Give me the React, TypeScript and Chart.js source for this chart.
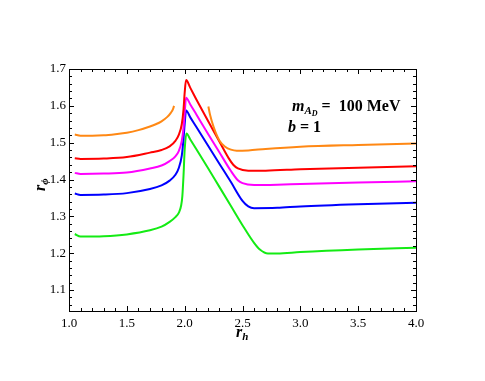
import React, { useEffect, useRef } from "react";
import { Chart, registerables } from "chart.js";

Chart.register(...registerables);

// ---- data ----
const orangeLeftX = [1.05, 1.1, 1.2, 1.3, 1.4, 1.5, 1.6, 1.7, 1.75, 1.8, 1.85, 1.88, 1.9, 1.908];
const orangeLeftY = [1.522, 1.519, 1.519, 1.52, 1.523, 1.527, 1.534, 1.544, 1.55, 1.558, 1.57, 1.581, 1.592, 1.6];
const orangeRightX = [2.205, 2.22, 2.25, 2.3, 2.35, 2.4, 2.45, 2.55, 2.7, 3.0, 3.5, 4.0];
const orangeRightY = [1.598, 1.575, 1.543, 1.506, 1.489, 1.481, 1.478, 1.479, 1.483, 1.489, 1.494, 1.498];

const redX = [1.05, 1.1, 1.3, 1.5, 1.7, 1.8, 1.87, 1.92, 1.95, 1.975, 1.99, 2.0, 2.012, 2.05, 2.1, 2.2, 2.3, 2.38, 2.42, 2.46, 2.55, 2.7, 3.0, 3.5, 4.0];
const redY = [1.458, 1.456, 1.457, 1.461, 1.473, 1.48, 1.49, 1.505, 1.522, 1.55, 1.59, 1.635, 1.67, 1.648, 1.618, 1.56, 1.503, 1.458, 1.44, 1.43, 1.424, 1.424, 1.428, 1.432, 1.436];

const magentaX = [1.05, 1.1, 1.3, 1.5, 1.7, 1.8, 1.87, 1.92, 1.95, 1.975, 1.99, 2.0, 2.012, 2.05, 2.1, 2.2, 2.3, 2.4, 2.46, 2.5, 2.6, 2.8, 3.0, 3.5, 4.0];
const magentaY = [1.418, 1.415, 1.416, 1.419, 1.43, 1.438, 1.45, 1.463, 1.478, 1.505, 1.54, 1.58, 1.622, 1.603, 1.577, 1.525, 1.474, 1.423, 1.398, 1.39, 1.385, 1.386, 1.388, 1.392, 1.395];

const blueX = [1.05, 1.1, 1.3, 1.5, 1.7, 1.8, 1.87, 1.92, 1.95, 1.975, 1.99, 2.0, 2.012, 2.05, 2.1, 2.2, 2.3, 2.4, 2.5, 2.55, 2.6, 2.8, 3.0, 3.5, 4.0];
const blueY = [1.362, 1.358, 1.359, 1.363, 1.374, 1.384, 1.397, 1.413, 1.432, 1.465, 1.51, 1.55, 1.587, 1.568, 1.543, 1.493, 1.443, 1.393, 1.342, 1.327, 1.322, 1.323, 1.327, 1.333, 1.337];

const greenX = [1.05, 1.1, 1.3, 1.5, 1.7, 1.8, 1.87, 1.92, 1.95, 1.97, 1.98, 1.99, 2.0, 2.015, 2.05, 2.1, 2.2, 2.3, 2.4, 2.5, 2.6, 2.65, 2.72, 2.8, 3.0, 3.5, 4.0];
const greenY = [1.252, 1.245, 1.246, 1.251, 1.262, 1.272, 1.285, 1.298, 1.31, 1.33, 1.355, 1.41, 1.48, 1.525, 1.508, 1.483, 1.432, 1.38, 1.328, 1.276, 1.228, 1.21, 1.199, 1.199, 1.203, 1.21, 1.215];

const xMin = 1.0;
const xMax = 4.0;
const yMin = 1.043;
const yMax = 1.7;
const xMajorStep = 0.5;
const xMinorStep = 0.1;
const yMajorStep = 0.1;
const yMinorStep = 0.02;

const ORANGE = "rgb(255,136,20)";
const RED = "rgb(255,0,0)";
const MAGENTA = "rgb(255,0,255)";
const BLUE = "rgb(0,0,255)";
const GREEN = "rgb(20,235,20)";

const pts = (xs: number[], ys: number[]) => xs.map((x, i) => ({ x, y: ys[i] }));

const SERIF = "'Liberation Serif', 'Times New Roman', serif";

type Run = { text: string; font: string; dy: number };

function drawRuns(ctx: CanvasRenderingContext2D, x: number, y: number, runs: Run[]) {
  let cx = x;
  for (const r of runs) {
    ctx.font = r.font;
    ctx.fillText(r.text, cx, y + r.dy);
    cx += ctx.measureText(r.text).width;
  }
  return cx;
}

const framePlugin = {
  id: "frame",
  afterDraw(chart: any) {
    const { ctx, chartArea: a, scales } = chart;
    const xs = scales.x;
    const ys = scales.y;
    ctx.save();
    ctx.strokeStyle = "#000";
    ctx.lineWidth = 1;
    ctx.strokeRect(Math.round(a.left) + 0.5, Math.round(a.top) + 0.5, Math.round(a.right - a.left), Math.round(a.bottom - a.top));
    ctx.beginPath();
    const nx = Math.round((xMax - xMin) / xMinorStep);
    for (let i = 0; i <= nx; i++) {
      const v = xMin + i * xMinorStep;
      const major = i % Math.round(xMajorStep / xMinorStep) === 0;
      const len = major ? 5 : 3;
      const px = Math.round(xs.getPixelForValue(v)) + 0.5;
      ctx.moveTo(px, a.bottom);
      ctx.lineTo(px, a.bottom - len);
      ctx.moveTo(px, a.top);
      ctx.lineTo(px, a.top + len);
    }
    const ny = Math.round((yMax - 1.0) / yMinorStep);
    for (let i = 0; i <= ny; i++) {
      const v = 1.0 + i * yMinorStep;
      if (v < yMin) continue;
      const major = i % Math.round(yMajorStep / yMinorStep) === 0;
      const len = major ? 5 : 3;
      const py = Math.round(ys.getPixelForValue(v)) + 0.5;
      ctx.moveTo(a.left, py);
      ctx.lineTo(a.left + len, py);
      ctx.moveTo(a.right, py);
      ctx.lineTo(a.right - len, py);
    }
    ctx.stroke();

    ctx.fillStyle = "#000";
    ctx.textBaseline = "alphabetic";
    ctx.textAlign = "left";
    // x title r_h
    drawRuns(ctx, 236, 337, [
      { text: "r", font: `bold italic 16px ${SERIF}`, dy: 0 },
      { text: "h", font: `bold italic 11px ${SERIF}`, dy: 3 },
    ]);
    // y title r_phi (rotated)
    ctx.save();
    ctx.translate(45, 191);
    ctx.rotate(-Math.PI / 2);
    drawRuns(ctx, 0, 0, [
      { text: "r", font: `bold italic 16px ${SERIF}`, dy: 0 },
      { text: "\u03d5", font: `bold italic 11px ${SERIF}`, dy: 3 },
    ]);
    ctx.restore();

    // annotation
    const ax = a.left + 223;
    const ay = a.top + 42;
    drawRuns(ctx, ax, ay, [
      { text: "m", font: `bold italic 16px ${SERIF}`, dy: 0 },
      { text: "A", font: `bold italic 11px ${SERIF}`, dy: 3 },
      { text: "D", font: `bold italic 8px ${SERIF}`, dy: 5 },
      { text: " =  100 MeV", font: `bold 16px ${SERIF}`, dy: 0 },
    ]);
    drawRuns(ctx, ax - 4, ay + 21, [
      { text: "b", font: `bold italic 16px ${SERIF}`, dy: 0 },
      { text: " = 1", font: `bold 16px ${SERIF}`, dy: 0 },
    ]);
    ctx.restore();
  },
};

const filterTicks = (step: number) => (scale: any) => {
  scale.ticks = scale.ticks.filter((t: any) => Math.abs(t.value / step - Math.round(t.value / step)) < 1e-6);
};

export default function App() {
  const ref = useRef<HTMLCanvasElement>(null);
  useEffect(() => {
    if (!ref.current) return;
    const line = (data: any[], color: string) => ({
      data,
      borderColor: color,
      backgroundColor: color,
      borderWidth: 2,
      pointRadius: 0,
      fill: false,
      cubicInterpolationMode: "monotone" as const,
    });
    const chart = new Chart(ref.current, {
      type: "line",
      data: {
        datasets: [
          line(pts(orangeLeftX, orangeLeftY), ORANGE),
          line(pts(orangeRightX, orangeRightY), ORANGE),
          line(pts(redX, redY), RED),
          line(pts(magentaX, magentaY), MAGENTA),
          line(pts(blueX, blueY), BLUE),
          line(pts(greenX, greenY), GREEN),
        ],
      },
      options: {
        animation: false,
        responsive: false,
        devicePixelRatio: 1,
        layout: { padding: { top: 69, right: 69, left: 0, bottom: 0 } },
        plugins: { legend: { display: false }, tooltip: { enabled: false } },
        scales: {
          x: {
            type: "linear",
            min: xMin,
            max: xMax,
            grid: { display: false, drawTicks: false },
            border: { display: false },
            ticks: {
              stepSize: xMajorStep,
              padding: 5,
              color: "#000",
              font: { family: SERIF, size: 13 },
              callback: (v: any) => Number(v).toFixed(1),
            },
            afterBuildTicks: filterTicks(xMajorStep),
            afterFit: (s: any) => {
              s.height = 70;
            },
          },
          y: {
            type: "linear",
            min: yMin,
            max: yMax,
            grid: { display: false, drawTicks: false },
            border: { display: false },
            ticks: {
              stepSize: yMajorStep,
              padding: 3,
              color: "#000",
              font: { family: SERIF, size: 13 },
              callback: (v: any) => Number(v).toFixed(1),
            },
            afterBuildTicks: filterTicks(yMajorStep),
            afterFit: (s: any) => {
              s.width = 69;
            },
          },
        },
      },
      plugins: [framePlugin],
    });
    return () => chart.destroy();
  }, []);
  return (
    <div style={{ position: "absolute", left: 0, top: 0, width: 485, height: 381, background: "#fff" }}>
      <canvas ref={ref} width={485} height={381} style={{ display: "block" }} />
    </div>
  );
}
